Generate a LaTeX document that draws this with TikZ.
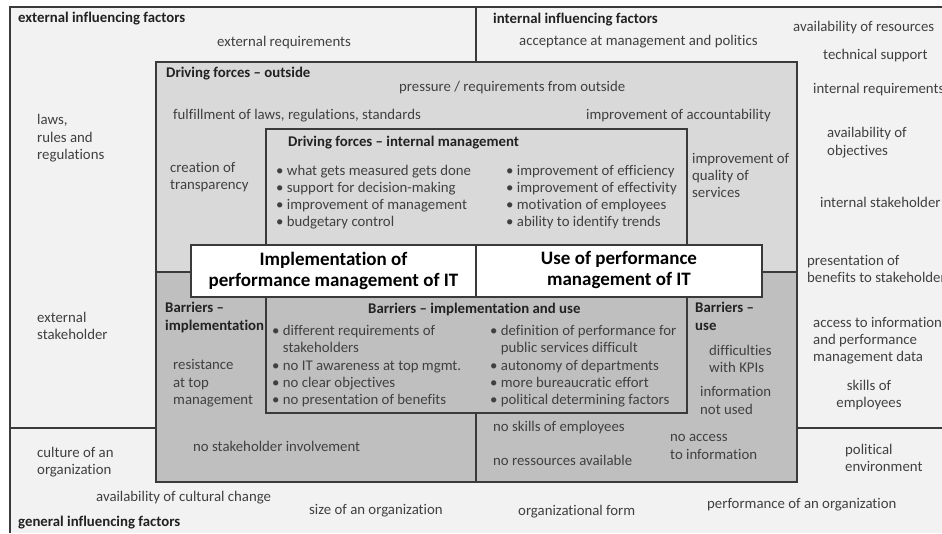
\documentclass[tikz,border=0pt]{standalone}
\usepackage{fontspec}
\setmainfont[Ligatures=NoCommon]{Carlito}
\definecolor{outerbg}{HTML}{F2F2F2}
\definecolor{drivebg}{HTML}{D9D9D9}
\definecolor{barbg}{HTML}{BFBFBF}
\definecolor{linec}{HTML}{3A3A3A}
\definecolor{txtc}{HTML}{404040}
\definecolor{boldc}{HTML}{222222}
\newcommand{\bul}{\textbullet\ }
\newcommand{\hang}{\phantom{\textbullet}\ }
\tikzset{
  frame/.style={draw=linec, line width=1.2pt},
  lbl/.style={anchor=west, inner sep=0pt, align=left, text=txtc,
    font=\fontsize{14.8}{17.3}\selectfont,
    execute at begin node=\strut, execute at end node=\strut},
  ttl/.style={lbl, text=boldc, font=\fontsize{14.8}{17.3}\selectfont\bfseries},
  bigttl/.style={anchor=center, inner sep=0pt, align=center, text=black,
    font=\fontsize{19}{21}\selectfont\bfseries},
}
\begin{document}
\begin{tikzpicture}[x=1pt,y=-1pt]
\useasboundingbox (0,0) rectangle (942,533);
% outer frame
\fill[outerbg] (10,7) rectangle (942,533);
\draw[frame] (10,533) -- (10,7) -- (942,7);
\draw[frame] (476,7) -- (476,62);
\draw[frame] (10,428) -- (156,428);
\draw[frame] (797,428) -- (942,428);
% driving forces outside / barriers
\draw[frame, fill=drivebg] (156,62) rectangle (797,272);
\draw[frame, fill=barbg] (156,272) rectangle (797,482);
\draw[frame, fill=drivebg] (266,129) rectangle (687,245);
\draw[frame, fill=barbg] (266,297) rectangle (687,413);
\draw[frame] (476,413) -- (476,482);
% central white boxes
\draw[frame, fill=white] (191,245) rectangle (476,297);
\draw[frame, fill=white] (476,245) rectangle (762,297);
\node[bigttl] (impl) at (333.5,270.5) {Implementation of\\performance management of IT};
\node[bigttl] (use) at (619,270.5) {Use of performance\\management of IT};

% outer labels
\node[ttl] (extinf) at (18,19) {external influencing factors};
\node[lbl] (extreq) at (217,43) {external requirements};
\node[ttl] (intinf) at (493,20) {internal influencing factors};
\node[lbl] (accept) at (519,42) {acceptance at management and politics};
\node[lbl] (avres) at (793,28) {availability of resources};
\node[lbl] (tech) at (823,56) {technical support};
\node[lbl] (intreq) at (813,90) {internal requirements};
\node[lbl] (avobj) at (827,144) {availability of\\objectives};
\node[lbl] (intst) at (820,204) {internal stakeholder};
\node[lbl] (pres) at (807,271.5) {presentation of\\benefits to stakeholder};
\node[lbl] (access) at (813,342) {access to information\\and performance\\management data};
\node[lbl, anchor=center, align=center] (skills) at (869,396.5) {skills of\\employees};
\node[lbl] (polit) at (845,460.5) {political\\environment};
\node[lbl] (perf) at (707,505) {performance of an organization};
\node[lbl] (orgform) at (518,512) {organizational form};
\node[lbl] (size) at (309,511) {size of an organization};
\node[lbl] (cultch) at (96,498) {availability of cultural change};
\node[ttl] (geninf) at (18,523) {general influencing factors};
\node[lbl] (culture) at (37,463.5) {culture of an\\organization};
\node[lbl] (extst) at (37,328.5) {external\\stakeholder};
\node[lbl] (laws) at (37,139.5) {laws,\\rules and\\regulations};

% driving forces outside
\node[ttl] (dfout) at (166,74) {Driving forces – outside};
\node[lbl] (press) at (399,88) {pressure / requirements from outside};
\node[lbl] (fulfil) at (173,116) {fulfillment of laws, regulations, standards};
\node[lbl] (account) at (586,116) {improvement of accountability};
\node[lbl] (transp) at (170,178.5) {creation of\\transparency};
\node[lbl] (quality) at (692,178) {improvement of\\quality of\\services};

% driving forces internal
\node[ttl] (dfint) at (288,143) {Driving forces – internal management};
\node[lbl] (dleft) at (276,198.5) {\bul what gets measured gets done\\\bul support for decision-making\\\bul improvement of management\\\bul budgetary control};
\node[lbl] (dright) at (506,198.5) {\bul improvement of efficiency\\\bul improvement of effectivity\\\bul motivation of employees\\\bul ability to identify trends};

% barriers
\node[ttl] (bimpl) at (165,319) {Barriers –\\implementation};
\node[lbl] (resist) at (173,384.5) {resistance\\at top\\management};
\node[ttl] (bboth) at (368,310.5) {Barriers – implementation and use};
\node[lbl] (bleft) at (272,367.5) {\bul different requirements of\\\hang stakeholders\\\bul no IT awareness at top mgmt.\\\bul no clear objectives\\\bul no presentation of benefits};
\node[lbl] (bright) at (490,367.5) {\bul definition of performance for\\\hang public services difficult\\\bul autonomy of departments\\\bul more bureaucratic effort\\\bul political determining factors};
\node[ttl] (buse) at (695,319) {Barriers –\\use};
\node[lbl] (kpi) at (709,361.5) {difficulties\\with KPIs};
\node[lbl] (notused) at (700,403) {information\\not used};
\node[lbl] (nostake) at (193,448) {no stakeholder involvement};
\node[lbl] (noskill) at (493,428) {no skills of employees};
\node[lbl] (nores) at (493,462) {no ressources available};
\node[lbl] (noacc) at (670,449.5) {no access\\to information};
\end{tikzpicture}
\end{document}
